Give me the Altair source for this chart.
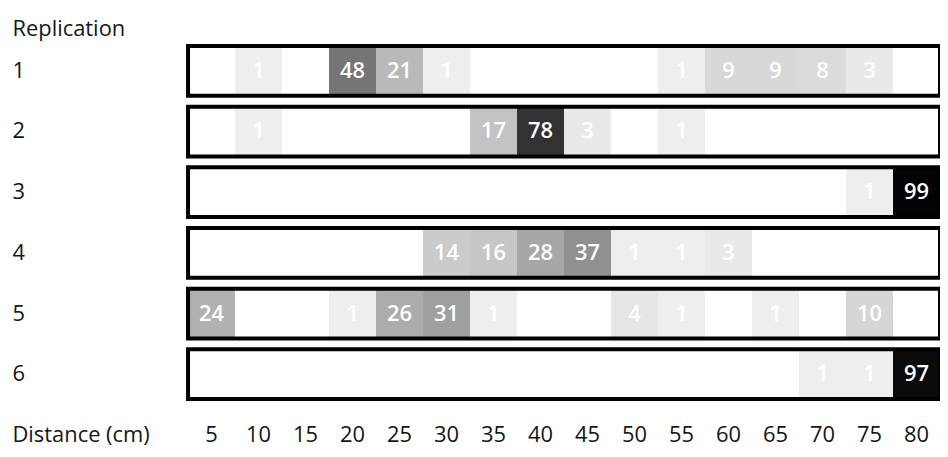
import altair as alt
import pandas as pd

distances = [5, 10, 15, 20, 25, 30, 35, 40, 45, 50, 55, 60, 65, 70, 75, 80]
replications = [1, 2, 3, 4, 5, 6]

cell_replication = [1, 1, 1, 1, 1, 1, 1, 1, 1,
                    2, 2, 2, 2, 2,
                    3, 3,
                    4, 4, 4, 4, 4, 4, 4,
                    5, 5, 5, 5, 5, 5, 5, 5, 5,
                    6, 6, 6]
cell_distance = [10, 20, 25, 30, 55, 60, 65, 70, 75,
                 10, 35, 40, 45, 55,
                 75, 80,
                 30, 35, 40, 45, 50, 55, 60,
                 5, 20, 25, 30, 35, 50, 55, 65, 75,
                 70, 75, 80]
cell_count = [1, 48, 21, 1, 1, 9, 9, 8, 3,
              1, 17, 78, 3, 1,
              1, 99,
              14, 16, 28, 37, 1, 1, 3,
              24, 1, 26, 31, 1, 4, 1, 1, 10,
              1, 1, 97]

cells = pd.DataFrame({"replication": cell_replication,
                      "distance": cell_distance,
                      "count": cell_count})
rows = pd.DataFrame({"replication": replications})

W = 756
H = 355
FONT = "Open Sans"
TXT = "#151515"

xscale = alt.Scale(domain=distances, paddingInner=0, paddingOuter=0)
yscale = alt.Scale(domain=replications, paddingInner=0.18, paddingOuter=0)

xaxis = alt.Axis(orient="bottom", domain=False, ticks=False, tickSize=0,
                 labelAngle=0, labelPadding=36, labelBaseline="middle",
                 labelFontSize=22, labelFont=FONT, labelColor=TXT,
                 title="Distance (cm)", titleX=-177, titleY=36,
                 titleAlign="left", titleBaseline="middle", titleAngle=0,
                 titleFontSize=22, titleFont=FONT, titleFontWeight="normal",
                 titleColor=TXT)
yaxis = alt.Axis(orient="left", domain=False, ticks=False, tickSize=0,
                 labelAlign="left", labelPadding=177, labelBaseline="middle",
                 labelFontSize=22, labelFont=FONT, labelColor=TXT,
                 title="Replication", titleX=-177, titleY=-18,
                 titleAlign="left", titleBaseline="middle", titleAngle=0,
                 titleFontSize=22, titleFont=FONT, titleFontWeight="normal",
                 titleColor=TXT)

base = alt.Chart(cells)

heat = base.mark_rect().encode(
    x=alt.X("distance:O", scale=xscale, axis=xaxis),
    y=alt.Y("replication:O", scale=yscale, axis=yaxis),
    color=alt.Color("count:Q",
                    scale=alt.Scale(domain=[1, 100], range=["#eeeeee", "#000000"]),
                    legend=None),
)

labels = base.mark_text(color="white", fontSize=22, font=FONT, fontWeight=600,
                        baseline="middle").encode(
    x=alt.X("distance:O", scale=xscale, axis=xaxis),
    y=alt.Y("replication:O", scale=yscale, axis=yaxis),
    text="count:Q",
)

boxes = alt.Chart(rows).mark_rect(fillOpacity=0, stroke="black", strokeWidth=4).encode(
    y=alt.Y("replication:O", scale=yscale, axis=yaxis),
    x=alt.value(0),
    x2=alt.value(W),
)

chart = alt.layer(heat, labels, boxes).properties(
    width=W, height=H,
    autosize=alt.AutoSizeParams(type="none"),
    padding={"left": 181, "top": 37, "right": 0, "bottom": 49},
    background="white",
).configure_view(stroke=None)

chart.save("out.html", embed_options={"renderer": "svg", "actions": False})
